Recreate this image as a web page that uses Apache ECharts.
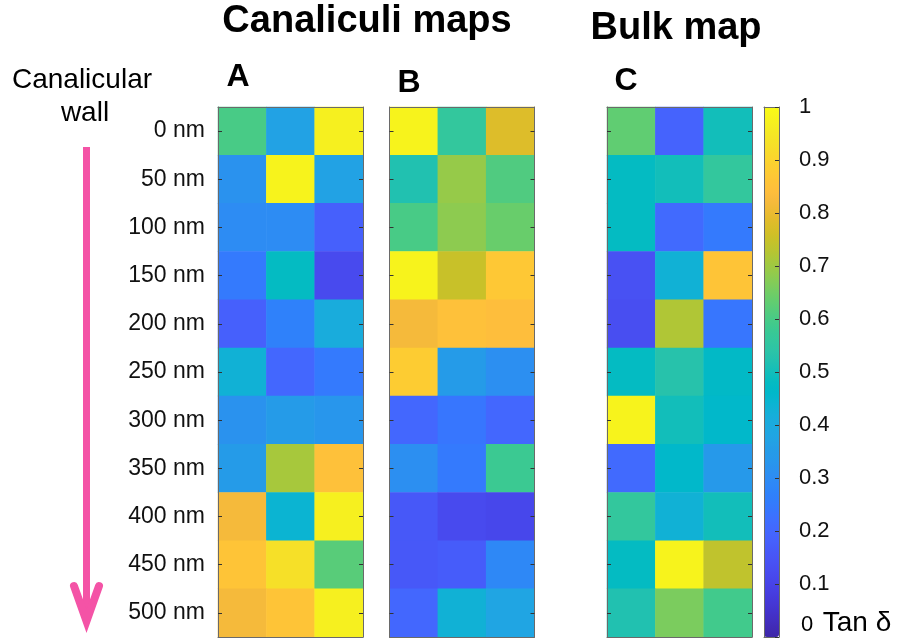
<!DOCTYPE html>
<html>
<head>
<meta charset="utf-8">
<script src="https://cdn.jsdelivr.net/npm/echarts@6/dist/echarts.min.js"></script>
<style>html,body{margin:0;padding:0;background:#fff}#c{width:899px;height:639px}</style>
</head>
<body>
<div id="c"></div>
<script>
// ---- data ----
const rowLabels = ['0 nm','50 nm','100 nm','150 nm','200 nm','250 nm','300 nm','350 nm','400 nm','450 nm','500 nm'];
const colLabels = ['1','2','3'];
const mapA = [
  [0.60, 0.37, 0.97],
  [0.32, 0.98, 0.37],
  [0.30, 0.30, 0.18],
  [0.25, 0.48, 0.12],
  [0.18, 0.27, 0.41],
  [0.43, 0.20, 0.25],
  [0.32, 0.35, 0.33],
  [0.35, 0.71, 0.85],
  [0.82, 0.44, 0.97],
  [0.86, 0.93, 0.62],
  [0.82, 0.86, 0.97]
];
const mapB = [
  [0.98, 0.56, 0.78],
  [0.52, 0.69, 0.61],
  [0.60, 0.68, 0.64],
  [0.98, 0.75, 0.87],
  [0.82, 0.85, 0.84],
  [0.88, 0.35, 0.31],
  [0.20, 0.24, 0.20],
  [0.31, 0.25, 0.58],
  [0.16, 0.12, 0.11],
  [0.16, 0.17, 0.29],
  [0.20, 0.43, 0.38]
];
const mapC = [
  [0.63, 0.19, 0.50],
  [0.48, 0.50, 0.56],
  [0.48, 0.21, 0.25],
  [0.14, 0.43, 0.86],
  [0.13, 0.72, 0.24],
  [0.48, 0.53, 0.47],
  [0.98, 0.50, 0.46],
  [0.21, 0.46, 0.34],
  [0.56, 0.43, 0.50],
  [0.48, 0.98, 0.74],
  [0.52, 0.66, 0.59]
];
const cbarTicks = ['0','0.1','0.2','0.3','0.4','0.5','0.6','0.7','0.8','0.9','1'];

// parula colormap (64 entries)
const parula = [
[0.2422,0.1504,0.6603],[0.2504,0.1650,0.7076],[0.2578,0.1818,0.7511],[0.2647,0.1978,0.7952],
[0.2706,0.2147,0.8364],[0.2751,0.2342,0.8710],[0.2783,0.2559,0.8991],[0.2803,0.2782,0.9221],
[0.2813,0.3006,0.9414],[0.2810,0.3228,0.9579],[0.2795,0.3447,0.9717],[0.2760,0.3667,0.9829],
[0.2699,0.3892,0.9906],[0.2602,0.4123,0.9952],[0.2440,0.4358,0.9988],[0.2206,0.4603,0.9973],
[0.1963,0.4847,0.9892],[0.1834,0.5074,0.9798],[0.1786,0.5289,0.9682],[0.1764,0.5499,0.9520],
[0.1687,0.5703,0.9359],[0.1540,0.5902,0.9218],[0.1460,0.6091,0.9079],[0.1380,0.6276,0.8973],
[0.1248,0.6459,0.8883],[0.1113,0.6635,0.8763],[0.0952,0.6798,0.8598],[0.0689,0.6948,0.8394],
[0.0297,0.7082,0.8163],[0.0036,0.7203,0.7917],[0.0067,0.7312,0.7660],[0.0433,0.7411,0.7394],
[0.0964,0.7500,0.7120],[0.1408,0.7584,0.6842],[0.1717,0.7670,0.6554],[0.1938,0.7758,0.6251],
[0.2161,0.7843,0.5923],[0.2470,0.7918,0.5567],[0.2906,0.7973,0.5188],[0.3406,0.8008,0.4789],
[0.3909,0.8029,0.4354],[0.4456,0.8024,0.3909],[0.5044,0.7993,0.3480],[0.5616,0.7942,0.3045],
[0.6174,0.7876,0.2612],[0.6720,0.7793,0.2227],[0.7242,0.7698,0.1910],[0.7738,0.7598,0.1646],
[0.8203,0.7498,0.1535],[0.8634,0.7406,0.1596],[0.9035,0.7330,0.1774],[0.9393,0.7288,0.2100],
[0.9728,0.7298,0.2394],[0.9956,0.7434,0.2371],[0.9970,0.7659,0.2199],[0.9952,0.7893,0.2028],
[0.9892,0.8136,0.1885],[0.9786,0.8386,0.1766],[0.9676,0.8639,0.1643],[0.9610,0.8890,0.1537],
[0.9597,0.9135,0.1423],[0.9628,0.9373,0.1265],[0.9691,0.9606,0.1064],[0.9769,0.9839,0.0805]
].map(c => 'rgb(' + c.map(v => Math.round(v * 255)).join(',') + ')');

// ---- layout ----
const panels = [
  { name: 'A', data: mapA, left: 218 },
  { name: 'B', data: mapB, left: 389.5 },
  { name: 'C', data: mapC, left: 607 }
];
const TOP = 107, H = 530, W = 145;
const FONT = 'Liberation Sans';
const lineCol = '#6a6a6a';

const grids = [], xAxes = [], yAxes = [], series = [];
panels.forEach((p, i) => {
  grids.push({ left: p.left, top: TOP, width: W, height: H });
  const xBase = { type: 'category', data: colLabels, gridIndex: i, z: 10,
    axisLine: { show: true, lineStyle: { color: lineCol, width: 1 } },
    axisTick: { show: false }, axisLabel: { show: false }, splitLine: { show: false } };
  xAxes.push(Object.assign({}, xBase, { position: 'bottom' }));
  xAxes.push(Object.assign({}, xBase, { position: 'top' }));
  const yBase = { type: 'category', data: rowLabels, inverse: true, gridIndex: i, z: 10,
    axisLine: { show: true, lineStyle: { color: lineCol, width: 1 } },
    axisTick: { show: true, inside: true, length: 4, alignWithLabel: true, lineStyle: { color: '#333', width: 1 } },
    splitLine: { show: false } };
  yAxes.push(Object.assign({}, yBase, { position: 'left',
    axisLabel: { show: i === 0, interval: 0, margin: 13, fontSize: 23, fontFamily: FONT, color: '#111' } }));
  yAxes.push(Object.assign({}, yBase, { position: 'right', axisLabel: { show: false } }));
  const d = [];
  p.data.forEach((row, r) => row.forEach((v, c) => d.push([c, r, v])));
  series.push({ type: 'heatmap', xAxisIndex: i * 2, yAxisIndex: i * 2, data: d,
    emphasis: { disabled: true }, itemStyle: { borderWidth: 0 } });
});

// colorbar grid (axes only)
grids.push({ left: 764, top: TOP, width: 15, height: H });
xAxes.push({ type: 'value', gridIndex: 3, min: 0, max: 1, position: 'bottom', z: 10,
  axisLine: { show: true, onZero: false, lineStyle: { color: lineCol } }, axisTick: { show: false },
  axisLabel: { show: false }, splitLine: { show: false } });
xAxes.push({ type: 'value', gridIndex: 3, min: 0, max: 1, position: 'top', z: 10,
  axisLine: { show: true, onZero: false, lineStyle: { color: lineCol } }, axisTick: { show: false },
  axisLabel: { show: false }, splitLine: { show: false } });
yAxes.push({ type: 'value', gridIndex: 3, min: 0, max: 1, interval: 0.1, position: 'left', z: 10,
  axisLine: { show: true, onZero: false, lineStyle: { color: lineCol } }, axisTick: { show: false },
  axisLabel: { show: false }, splitLine: { show: false } });
yAxes.push({ type: 'value', gridIndex: 3, min: 0, max: 1, interval: 0.1, position: 'right', z: 10,
  axisLine: { show: true, onZero: false, lineStyle: { color: lineCol } },
  axisTick: { show: true, inside: true, length: 4, lineStyle: { color: '#333' } },
  axisLabel: { show: true, margin: 20, fontSize: 22, fontFamily: FONT, color: '#111',
    formatter: (v) => { const i = Math.round(v * 10); return i === 0 ? '' : cbarTicks[i]; } },
  splitLine: { show: false } });

const txt = (x, y, s, size, weight, align) => ({
  type: 'text', x: x, y: y, z: 20,
  style: { text: s, fontSize: size, fontWeight: weight, fontFamily: FONT, fill: '#000',
    textAlign: align || 'center', textVerticalAlign: 'middle' }
});

const chart = echarts.init(document.getElementById('c'), null, { renderer: 'canvas' });
chart.setOption({
  animation: false,
  backgroundColor: '#fff',
  grid: grids,
  xAxis: xAxes,
  yAxis: yAxes,
  visualMap: {
    type: 'continuous', min: 0, max: 1, seriesIndex: [0, 1, 2],
    calculable: false, hoverLink: false, show: true, orient: 'vertical',
    left: 764, top: TOP, itemWidth: 15, itemHeight: H, padding: 0,
    inRange: { color: parula }
  },
  series: series,
  graphic: [
    txt(367, 22, 'Canaliculi maps', 38, 'bold'),
    txt(676, 29, 'Bulk map', 38, 'bold'),
    txt(238, 77, 'A', 32, 'bold'),
    txt(409, 83, 'B', 32, 'bold'),
    txt(626, 81, 'C', 32, 'bold'),
    txt(82, 80, 'Canalicular', 28, 'normal'),
    txt(85, 113, 'wall', 28, 'normal'),
    txt(807, 625, '0', 22, 'normal'),
    txt(857, 623, 'Tan δ', 28, 'normal'),
    { type: 'line', z: 20, shape: { x1: 86.5, y1: 147, x2: 86.5, y2: 618 },
      style: { stroke: '#f453a6', lineWidth: 7 } },
    { type: 'polyline', z: 20, shape: { points: [[74, 586], [86.5, 621], [99, 586]] },
      style: { stroke: '#f453a6', lineWidth: 8, fill: null, lineJoin: 'miter', lineCap: 'round' } }
  ]
});
</script>
</body>
</html>
